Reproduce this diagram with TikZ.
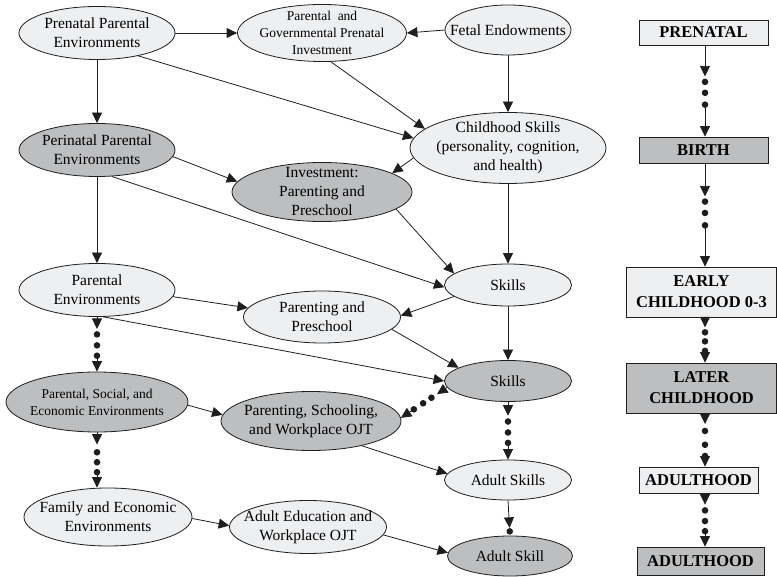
\documentclass[tikz,border=0pt]{standalone}
\usepackage{fontspec}
\setmainfont{Liberation Serif}
\usetikzlibrary{shapes.geometric,arrows.meta}
\definecolor{lightfill}{HTML}{EEEFF1}
\definecolor{darkfill}{HTML}{BDBEC0}
\definecolor{edgecol}{HTML}{1E1E1E}
\tikzset{
  ell/.style={ellipse, draw=edgecol, line width=0.8pt, inner sep=-40pt, align=center,
    font=\fontsize{15.5}{19}\selectfont},
  lt/.style={ell, fill=lightfill},
  dk/.style={ell, fill=darkfill},
  sm/.style={font=\fontsize{13.5}{17}\selectfont},
  stage/.style={rectangle, draw=edgecol, line width=0.8pt, inner sep=0pt, align=center,
    font=\bfseries\fontsize{16.5}{21}\selectfont},
  tipA/.tip={Triangle[length=10.5pt,width=10pt]},
  arr/.style={-tipA, line width=0.8pt, draw=edgecol},
}
\newcommand{\dotlink}[6]{%
  \path (#1) -- (#2) coordinate[pos=#3] (dlA) coordinate[pos=#4] (dlB)
        coordinate[pos=#5] (dlC) coordinate[pos=#6] (dlD);
  \draw[arr] (#1) -- (dlA);
  \fill[edgecol] (dlB) circle[radius=3.3pt] (dlC) circle[radius=3.3pt] (dlD) circle[radius=3.3pt];
  \draw[arr] (dlD) -- (#2);
}
\begin{document}
\begin{tikzpicture}[x=1pt,y=-1pt]
\useasboundingbox (0,0) rectangle (777,577);

% ellipses
\node[lt, minimum width=156pt, minimum height=53pt] (pre) at (97,33) {Prenatal Parental\\Environments};
\node[lt, sm, minimum width=169pt, minimum height=57pt] (pgi) at (322,33) {Parental\ \ and\\Governmental Prenatal\\Investment};
\node[lt, minimum width=126pt, minimum height=50pt] (fe) at (508,30) {Fetal Endowments};
\node[lt, minimum width=196pt, minimum height=71pt] (cs) at (508,148) {Childhood Skills\\(personality, cognition,\\and health)};
\node[dk, minimum width=156pt, minimum height=53pt] (peri) at (97,150) {Perinatal Parental\\Environments};
\node[dk, minimum width=180pt, minimum height=59pt] (inv) at (322,192) {Investment:\\Parenting and\\Preschool};
\node[lt, minimum width=156pt, minimum height=53pt] (penv) at (97,290) {Parental\\Environments};
\node[lt, minimum width=127pt, minimum height=42pt] (sk1) at (508,285) {Skills};
\node[lt, minimum width=157pt, minimum height=52pt] (pp) at (322,317) {Parenting and\\Preschool};
\node[dk, minimum width=127pt, minimum height=41pt] (sk2) at (508,381) {Skills};
\node[dk, sm, minimum width=182pt, minimum height=60pt] (pse) at (97,402) {Parental, Social, and\\Economic Environments};
\node[dk, minimum width=180pt, minimum height=59pt] (psw) at (311,421) {Parenting, Schooling,\\and Workplace OJT};
\node[lt, minimum width=127pt, minimum height=40pt] (as) at (508,480) {Adult Skills};
\node[lt, minimum width=168pt, minimum height=58pt] (fam) at (108,517) {Family and Economic\\Environments};
\node[lt, minimum width=157pt, minimum height=53pt] (ae) at (308,527) {Adult Education and\\Workplace OJT};
\node[dk, minimum width=125pt, minimum height=40pt] (as2) at (510,556) {Adult Skill};

% stage boxes
\coordinate (colx) at (705,0);
\node[stage, fill=lightfill, minimum width=129pt, minimum height=25pt] (b1) at (703.5,32.5) {PRENATAL};
\node[stage, fill=darkfill, minimum width=129pt, minimum height=26pt] (b2) at (703.5,150) {BIRTH};
\node[stage, fill=lightfill, minimum width=150pt, minimum height=50pt] (b3) at (701.5,292) {EARLY\\CHILDHOOD 0-3};
\node[stage, fill=darkfill, minimum width=150pt, minimum height=50pt] (b4) at (701.5,388) {LATER\\CHILDHOOD};
\node[stage, fill=lightfill, minimum width=119pt, minimum height=26pt] (b5) at (698.5,480) {ADULTHOOD};
\node[stage, fill=darkfill, minimum width=127pt, minimum height=28pt] (b6) at (700.5,561) {ADULTHOOD};

% solid connectors
\draw[arr] (pre.east) -- (pgi.west);
\draw[arr] (fe.west) -- (pgi.east);
\draw[arr] (pre.south) -- (peri.north);
\draw[arr] (pre.-29) -- (cs.174);
\draw[arr] (pgi.-73) -- (cs.167);
\draw[arr] (fe.south) -- (cs.north);
\draw[arr] (cs.186) -- (inv.15);
\draw[arr] (peri.-5) -- (inv.173);
\draw[arr] (peri.-61) -- (sk1.182);
\draw[arr] (inv.-13) -- (sk1.168);
\draw[arr] (peri.south) -- (penv.north);
\draw[arr] (cs.south) -- (sk1.north);
\draw[arr] (penv.-5) -- (pp.173);
\draw[arr] (sk1.192) -- (pp.1);
\draw[arr] (penv.-77) -- (sk2.180);
\draw[arr] (pp.-10) -- (sk2.165);
\draw[arr] (sk1.south) -- (sk2.north);
\draw[arr] (pse.-2) -- (psw.176);
\draw[arr] (psw.-26) -- (as.174);
\draw[arr] (fam.-1) -- (ae.179);
\draw[arr] (ae.-6) -- (as2.177);

% dotted connectors
\dotlink{penv.south}{pse.north}{0.22}{0.32}{0.52}{0.71}
\dotlink{pse.south}{pse.south |- fam.north}{0.22}{0.36}{0.54}{0.72}
\dotlink{sk2.186}{psw.2}{0.22}{0.34}{0.52}{0.72}
\dotlink{sk2.south}{as.north}{0.24}{0.34}{0.53}{0.71}
\path (as.south) -- (as2.north) coordinate[pos=0.78] (asA) coordinate[pos=0.88] (asB);
\draw[arr] (as.south) -- (asA);
\fill[edgecol] (asB) circle[radius=3.3pt];

\dotlink{b1.south -| colx}{b2.north -| colx}{0.34}{0.40}{0.52}{0.65}
\dotlink{b2.south -| colx}{b3.north -| colx}{0.32}{0.37}{0.48}{0.60}
\dotlink{b3.south -| colx}{b4.north -| colx}{0.22}{0.33}{0.53}{0.74}
\dotlink{b4.south -| colx}{b5.north -| colx}{0.20}{0.33}{0.59}{0.80}
\dotlink{b5.south -| colx}{b6.north -| colx}{0.21}{0.32}{0.52}{0.71}
\end{tikzpicture}
\end{document}
